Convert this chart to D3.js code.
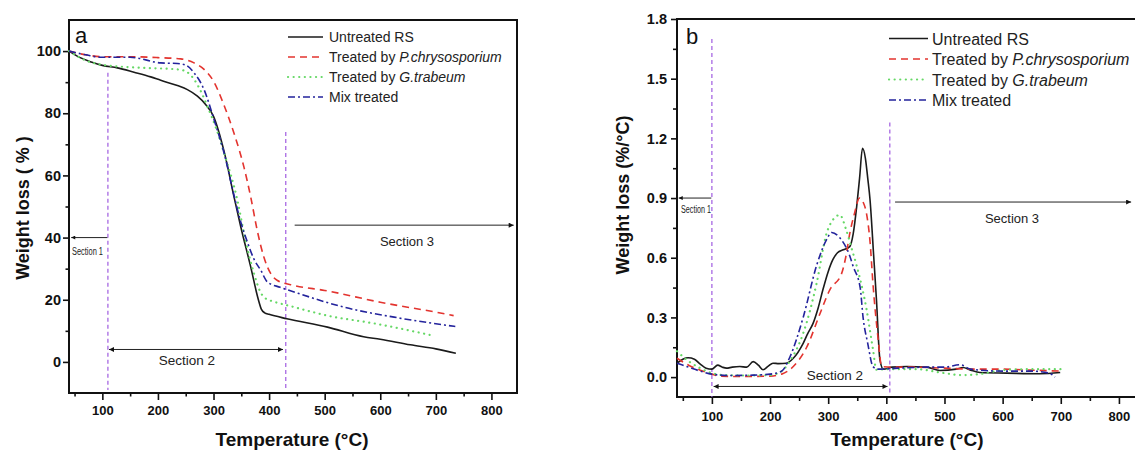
<!DOCTYPE html>
<html><head><meta charset="utf-8">
<script src="https://cdn.jsdelivr.net/npm/d3@7"></script>
<style>
body{margin:0;background:#fff}
svg{display:block}
text{font-family:"Liberation Sans",Arial,sans-serif}
</style>
</head><body>
<svg id="chart" width="1135" height="451"></svg>
<script>
// ---------- Data: panel a (TG) ----------
const tgTempUntreated = [40,60,80,100,127,157,187,205,235,253,271,285,300,320,337,349,367,380,386,392,400,432,505,570,600,654,700,736];
const tgUntreated     = [100,97.9,96.5,95.4,94.6,93.2,91.7,90.6,88.9,87.6,85.5,83,79,67,53,43.5,30.5,20.5,17,15.8,15.3,13.9,11.2,8.1,7.3,5.5,4.2,2.8];

const tgTempPchry = [40,70,100,145,200,241,265,283,300,318,337,355,367,379,391,403,415,445,500,600,700,732];
const tgPchry     = [100,98.8,98.2,98.2,97.9,97.5,96.2,94.1,90.3,83,73.5,62.5,53,42,33.5,28.4,26.2,24.6,23,19.2,16,14.9];

const tgTempGtra = [40,70,103,175,235,250,265,280,289,305,319,343,355,365,373,383,391,410,433,505,595,696];
const tgGtra     = [100,97,95.5,94.6,94.1,93.5,90.9,86,82.2,75,67.2,52,41.3,33.5,28.4,23,20.8,19.3,18.2,14.9,12.2,8.4];

const tgTempMix = [40,70,100,150,205,235,250,265,283,301,319,337,349,361,373,385,397,420,445,535,625,735];
const tgMix     = [100,98.8,98,98,96.2,96,95.5,93,87.6,77.9,67.2,53.5,45,38.5,33,29.5,25.7,24,22.5,17.6,14.4,11.4];

// ---------- Data: panel b (DTG) ----------
const dtgTempUntreated = [40,50,59,70,80,90,100,110,118,125,135,148,160,171,180,188,197,205,215,228,240,257,265,274,283,291,300,308,316,326,337,343,349,354,359,364,368,372,378,383,389,395,410,435,469,492,520,532,545,561,607,664,699];
const dtgUntreated     = [0.07,0.09,0.097,0.09,0.065,0.045,0.04,0.06,0.05,0.045,0.05,0.053,0.05,0.078,0.06,0.037,0.055,0.07,0.068,0.07,0.095,0.17,0.22,0.27,0.35,0.44,0.53,0.59,0.625,0.64,0.656,0.72,0.857,1.0,1.15,1.1,1.0,0.89,0.62,0.39,0.087,0.04,0.05,0.053,0.05,0.033,0.04,0.048,0.035,0.023,0.02,0.017,0.023];

const dtgTempPchry = [40,60,80,100,113,150,200,220,240,263,286,303,323,330,337,345,354,360,366,372,377,386,392,410,450,500,550,600,650,700];
const dtgPchry     = [0.095,0.06,0.035,0.015,0.005,0.003,0.005,0.015,0.053,0.15,0.32,0.44,0.52,0.6,0.72,0.82,0.9,0.88,0.82,0.68,0.47,0.19,0.053,0.05,0.05,0.045,0.04,0.04,0.035,0.03];

const dtgTempGtra = [40,60,80,100,120,160,200,220,234,257,280,297,308,320,331,340,349,366,377,383,400,450,500,530,560,600,650,700];
const dtgGtra     = [0.13,0.08,0.045,0.02,0.01,0.008,0.01,0.03,0.08,0.22,0.47,0.72,0.79,0.815,0.74,0.65,0.56,0.34,0.14,0.037,0.04,0.04,0.02,0.01,0.015,0.035,0.04,0.04];

const dtgTempMix = [40,60,80,100,130,170,200,220,234,257,280,297,306,320,337,343,355,360,368,377,385,420,470,500,527,545,600,650,680,690];
const dtgMix     = [0.07,0.05,0.03,0.015,0.008,0.01,0.015,0.03,0.1,0.3,0.56,0.69,0.727,0.7,0.61,0.556,0.45,0.3,0.17,0.053,0.04,0.045,0.05,0.05,0.062,0.04,0.03,0.03,0.02,0.0];

// ---------- Labels / ticks ----------
const seriesNames = ["Untreated RS","Treated by |P.chrysosporium","Treated by |G.trabeum","Mix treated"];
const xTicksMajor = [100,200,300,400,500,600,700,800];
const xTicksMinor = [50,150,250,350,450,550,650,750,850];
const yTicksA = [0,20,40,60,80,100];
const yTicksAMinor = [10,30,50,70,90];
const yTicksB = [0,0.3,0.6,0.9,1.2,1.5,1.8];
const yTicksBMinor = [0.15,0.45,0.75,1.05,1.35,1.65];

// ---------- Styles ----------
const styles = [
  {color:"#1b1b1b", dash:null, cap:"butt", w:1.6},
  {color:"#e3342f", dash:"7,5", cap:"butt", w:1.6},
  {color:"#66d866", dash:"0.1,5.5", cap:"round", w:2.2},
  {color:"#23239c", dash:"7,3,2,3", cap:"butt", w:1.6}
];

const svg = d3.select("#chart");
const defs = svg.append("defs");
defs.append("marker").attr("id","arr").attr("viewBox","0 0 10 10")
  .attr("refX",10).attr("refY",5).attr("markerUnits","userSpaceOnUse")
  .attr("markerWidth",9).attr("markerHeight",5).attr("orient","auto-start-reverse")
  .append("path").attr("d","M0,0L10,5L0,10z").attr("fill","#111");
defs.append("marker").attr("id","arrS").attr("viewBox","0 0 10 10")
  .attr("refX",10).attr("refY",5).attr("markerUnits","userSpaceOnUse")
  .attr("markerWidth",7).attr("markerHeight",4).attr("orient","auto-start-reverse")
  .append("path").attr("d","M0,0L10,5L0,10z").attr("fill","#111");

function drawPanel(p) {
  const g = svg.append("g");
  const x = d3.scaleLinear().domain(p.xDomain).range(p.xRange);
  const y = d3.scaleLinear().domain(p.yDomain).range(p.yRange);
  const [x0,x1] = p.xRange, [y0,y1] = p.yRange; // y0 bottom, y1 top

  // axes
  const xa = g.append("g").attr("transform",`translate(0,${y0})`)
    .call(d3.axisBottom(x).tickValues(xTicksMajor).tickSize(p.tickMajor).tickPadding(p.xPad).tickFormat(d3.format("d")));
  const xm = g.append("g").attr("transform",`translate(0,${y0})`)
    .call(d3.axisBottom(x).tickValues(xTicksMinor.filter(v=>x(v)<=x1)).tickSize(p.tickMinor).tickFormat(""));
  const ya = g.append("g").attr("transform",`translate(${x0},0)`)
    .call(d3.axisLeft(y).tickValues(p.yTicks).tickSize(p.tickMajor-1).tickPadding(p.yPad).tickFormat(p.yFmt));
  const ym = g.append("g").attr("transform",`translate(${x0},0)`)
    .call(d3.axisLeft(y).tickValues(p.yMinor).tickSize(p.tickMinor).tickFormat(""));
  [xa,xm,ya,ym].forEach(a=>{
    a.select(".domain").remove();
    a.selectAll("line").attr("stroke","#111").attr("stroke-width",1.6);
    a.selectAll("text").attr("fill","#111").style("font-weight","bold")
     .style("font-family",'"Liberation Sans",Arial,sans-serif');
  });
  xa.selectAll("text").style("font-size", p.xFont+"px");
  ya.selectAll("text").style("font-size", p.yFont+"px");

  // frame
  g.append("rect").attr("x",x0).attr("y",y1).attr("width",x1-x0).attr("height",y0-y1)
    .attr("fill","none").attr("stroke","#111").attr("stroke-width",2);

  // section lines
  p.vlines.forEach(v=>{
    g.append("line").attr("x1",x(v.x)).attr("x2",x(v.x)).attr("y1",y(v.top)).attr("y2",y(v.bot))
      .attr("stroke","#a05ce0").attr("stroke-width",1.2).attr("stroke-dasharray","4,3");
  });

  // curves
  const line = d3.line().x(d=>x(d[0])).y(d=>y(d[1])).curve(d3.curveMonotoneX);
  p.series.forEach((s,i)=>{
    const pts = s.t.map((t,j)=>[t,s.v[j]]);
    g.append("path").datum(pts).attr("d",line).attr("fill","none")
      .attr("stroke",styles[i].color).attr("stroke-width",styles[i].w)
      .attr("stroke-dasharray",styles[i].dash)
      .attr("stroke-linecap", styles[i].cap);
  });

  // arrows
  p.arrows.forEach(a=>{
    const l = g.append("line").attr("x1",x(a.x1)).attr("x2",x(a.x2)).attr("y1",y(a.y)).attr("y2",y(a.y))
      .attr("stroke","#222").attr("stroke-width",1);
    if (a.end) l.attr("marker-end",`url(#${a.small?"arrS":"arr"})`);
    if (a.start) l.attr("marker-start",`url(#${a.small?"arrS":"arr"})`);
  });
  p.labels.forEach(t=>{
    const tx = g.append("text").attr("x",t.x).attr("y",t.y).attr("fill","#222")
      .style("font-size",t.size+"px").attr("text-anchor",t.anchor||"middle").text(t.text);
    if (t.len) tx.attr("textLength",t.len).attr("lengthAdjust","spacingAndGlyphs");
  });

  // panel letter
  g.append("text").attr("x",p.letter.x).attr("y",p.letter.y).style("font-size",p.letter.size+"px")
    .attr("fill","#111").text(p.letter.text);

  // legend
  seriesNames.forEach((name,i)=>{
    const ly = p.legend.y + i*p.legend.dy;
    g.append("line").attr("x1",p.legend.x1).attr("x2",p.legend.x2).attr("y1",ly).attr("y2",ly)
      .attr("stroke",styles[i].color).attr("stroke-width",styles[i].w).attr("stroke-dasharray",styles[i].dash)
      .attr("stroke-linecap", styles[i].cap);
    const parts = name.split("|");
    const tx = g.append("text").attr("x",p.legend.tx).attr("y",ly+p.legend.off)
      .style("font-size",p.legend.size+"px").attr("fill","#222");
    tx.append("tspan").text(parts[0]);
    if (parts[1]) tx.append("tspan").style("font-style","italic").text(parts[1]);
  });

  // titles
  g.append("text").attr("x",p.xTitle.x).attr("y",p.xTitle.y).attr("text-anchor","middle")
    .style("font-size","19px").style("font-weight","bold").attr("fill","#111").text("Temperature (°C)");
  g.append("text").attr("transform",`translate(${p.yTitle.x},${p.yTitle.y}) rotate(-90)`).attr("text-anchor","middle")
    .style("font-size","18px").style("font-weight","bold").attr("fill","#111").text(p.yTitle.text);
}

drawPanel({
  xDomain:[40,846], xRange:[69,517], yDomain:[-10,110], yRange:[393,20],
  tickMajor:7, tickMinor:3.5, xPad:6, yPad:2, xFont:13, yFont:14.5, yTicks:yTicksA, yMinor:yTicksAMinor,
  yFmt:d3.format("d"),
  series:[{t:tgTempUntreated,v:tgUntreated},{t:tgTempPchry,v:tgPchry},{t:tgTempGtra,v:tgGtra},{t:tgTempMix,v:tgMix}],
  vlines:[{x:110,top:93,bot:-9},{x:430,top:74,bot:-9}],
  arrows:[
    {x1:109,x2:44,y:40,end:true,small:true},
    {x1:112,x2:425,y:4,end:true,start:true},
    {x1:446,x2:840,y:44,end:true}
  ],
  labels:[
    {x:87.5,y:255,text:"Section 1",size:10,len:31},
    {x:187,y:365,text:"Section 2",size:13.5},
    {x:407,y:246,text:"Section 3",size:13}
  ],
  letter:{x:75,y:43,size:22,text:"a"},
  legend:{x1:288,x2:323,tx:329,y:37,dy:20,off:5,size:14},
  xTitle:{x:292,y:446}, yTitle:{x:29,y:208,text:"Weight loss ( % )"}
});

drawPanel({
  xDomain:[40,850], xRange:[677,1148], yDomain:[-0.1,1.8], yRange:[397,19],
  tickMajor:7, tickMinor:4, xPad:8, yPad:4, xFont:13, yFont:14.5, yTicks:yTicksB, yMinor:yTicksBMinor,
  yFmt:d3.format(".1f"),
  series:[{t:dtgTempUntreated,v:dtgUntreated},{t:dtgTempPchry,v:dtgPchry},{t:dtgTempGtra,v:dtgGtra},{t:dtgTempMix,v:dtgMix}],
  vlines:[{x:100,top:1.7,bot:-0.1},{x:406,top:1.28,bot:-0.08}],
  arrows:[
    {x1:99,x2:43,y:0.9,end:true,small:true},
    {x1:103,x2:402,y:-0.047,end:true,start:true},
    {x1:415,x2:821,y:0.88,end:true}
  ],
  labels:[
    {x:696,y:213,text:"Section 1",size:10,len:30},
    {x:835,y:380,text:"Section 2",size:13.5},
    {x:1012,y:223,text:"Section 3",size:13}
  ],
  letter:{x:686,y:44,size:22,text:"b"},
  legend:{x1:889,x2:928,tx:932,y:38.5,dy:20.5,off:6,size:16},
  xTitle:{x:907,y:446}, yTitle:{x:629,y:195,text:"Weight loss (%/°C)"}
});
</script>
</body></html>
